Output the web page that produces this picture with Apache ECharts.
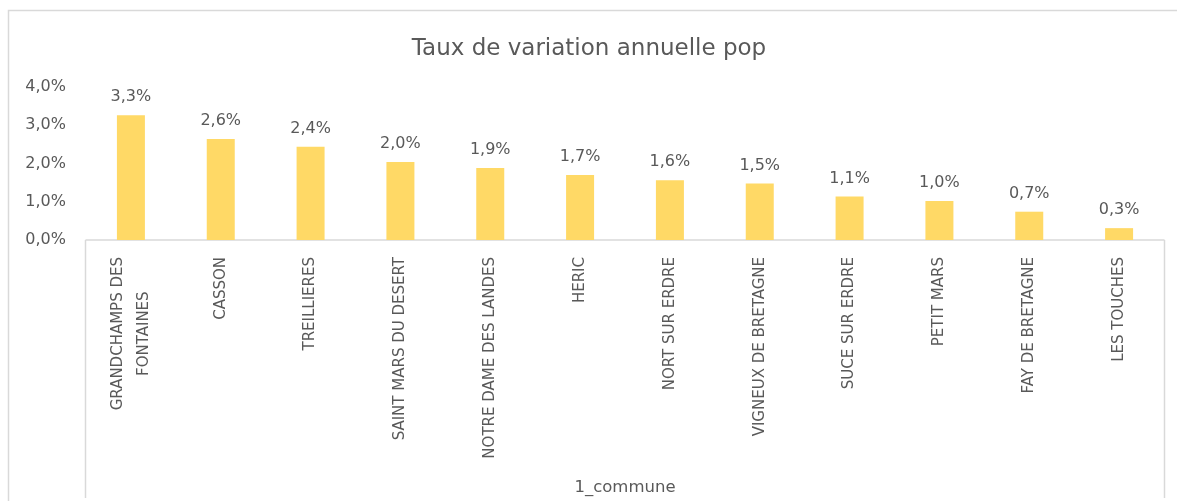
<!DOCTYPE html>
<html>
<head>
<meta charset="utf-8">
<script src="https://cdn.jsdelivr.net/npm/echarts@6/dist/echarts.min.js"></script>
<style>html,body{margin:0;padding:0;background:#fff;}#c{width:1177px;height:501px;}</style>
</head>
<body>
<div id="c"></div>
<script>
const categories = ['GRANDCHAMPS DES FONTAINES','CASSON','TREILLIERES','SAINT MARS DU DESERT','NOTRE DAME DES LANDES','HERIC','NORT SUR ERDRE','VIGNEUX DE BRETAGNE','SUCE SUR ERDRE','PETIT MARS','FAY DE BRETAGNE','LES TOUCHES'];
const values = [3.26, 2.64, 2.44, 2.04, 1.88, 1.70, 1.56, 1.48, 1.14, 1.02, 0.74, 0.31];
const titleText = 'Taux de variation annuelle pop';
const xAxisName = '1_commune';

const fmt = v => v.toFixed(1).replace('.', ',') + '%';
const FONT = '"DejaVu Sans", sans-serif';
const chart = echarts.init(document.getElementById('c'), null, {renderer: 'canvas'});
chart.setOption({
  backgroundColor: '#fff',
  animation: false,
  title: {
    text: titleText, left: 584, top: 33, textAlign: 'center',
    textStyle: {color: '#595959', fontSize: 23, fontWeight: 'normal', fontFamily: FONT}
  },
  grid: {left: 86, right: 13, top: 87, bottom: 261, containLabel: false, outerBoundsMode: 'none'},
  xAxis: {
    type: 'category', data: categories,
    name: xAxisName, nameLocation: 'middle', nameGap: 239,
    nameTextStyle: {color: '#595959', fontSize: 16.5, fontFamily: FONT},
    axisLine: {lineStyle: {color: '#D9D9D9', width: 1.5}},
    axisTick: {show: false},
    axisLabel: {
      rotate: 90, interval: 0, margin: 17, color: '#595959', fontSize: 15, fontFamily: FONT,
      formatter: v => v === 'GRANDCHAMPS DES FONTAINES' ? '{a|GRANDCHAMPS DES}\n{b|FONTAINES}' : v,
      rich: {
        a: {color: '#595959', fontSize: 15, fontFamily: FONT, lineHeight: 26},
        b: {color: '#595959', fontSize: 15, fontFamily: FONT, lineHeight: 26, align: 'center'}
      }
    }
  },
  yAxis: {
    type: 'value', min: 0, max: 4, interval: 1,
    axisLine: {show: false}, axisTick: {show: false}, splitLine: {show: false},
    axisLabel: {margin: 20, color: '#595959', fontSize: 16, fontFamily: FONT, formatter: fmt}
  },
  graphic: [
    {type: 'rect', silent: true, z: -1, shape: {x: 8.5, y: 10.5, width: 1200, height: 520},
     style: {fill: null, stroke: '#D9D9D9', lineWidth: 1.5}},
    {type: 'line', silent: true, shape: {x1: 85.5, y1: 240, x2: 85.5, y2: 498},
     style: {stroke: '#D9D9D9', lineWidth: 1.5}},
    {type: 'line', silent: true, shape: {x1: 1164.5, y1: 240, x2: 1164.5, y2: 498},
     style: {stroke: '#D9D9D9', lineWidth: 1.5}}
  ],
  series: [{
    type: 'bar', data: values, barWidth: 28,
    itemStyle: {color: '#FFD966'},
    label: {show: true, position: 'top', distance: 10, color: '#595959', fontSize: 16, fontFamily: FONT,
      formatter: p => fmt(p.value)}
  }]
});
</script>
</body>
</html>
